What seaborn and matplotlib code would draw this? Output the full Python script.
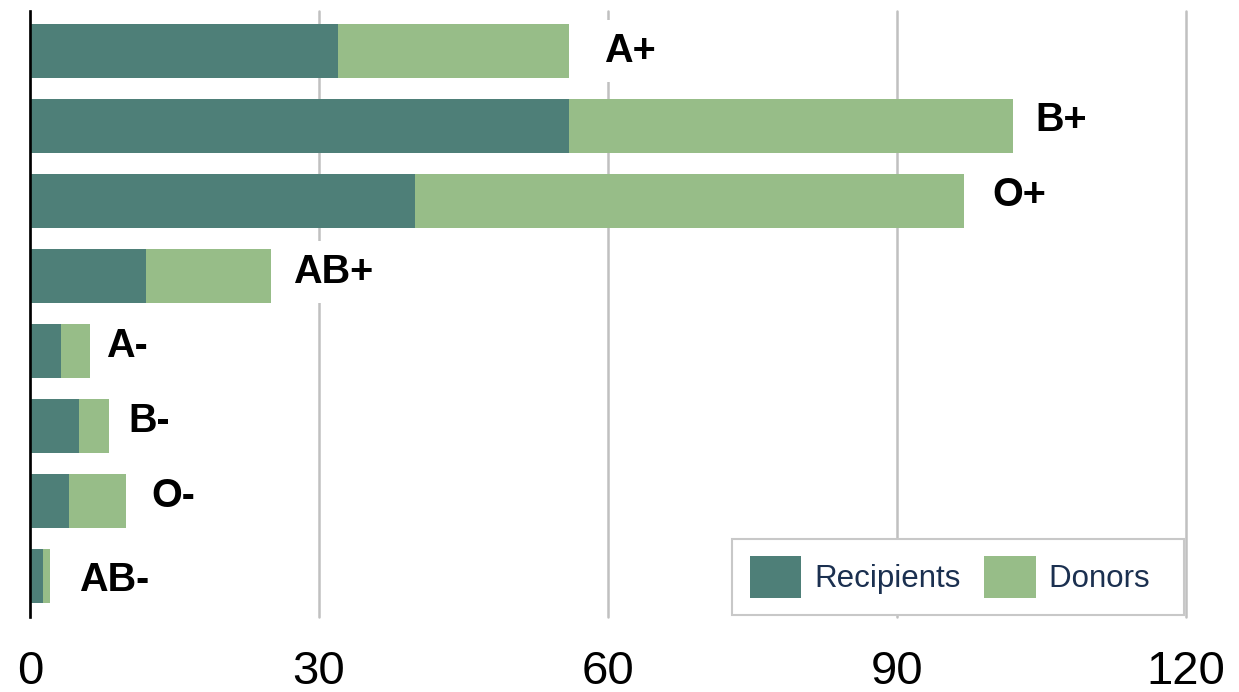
import matplotlib
matplotlib.use("Agg")
import matplotlib.pyplot as plt
from matplotlib.patches import Patch
import seaborn as sns
import pandas as pd

blood_types = ["A+", "B+", "O+", "AB+", "A-", "B-", "O-", "AB-"]
recipients = [32, 56, 40, 12, 3.2, 5.1, 4, 1.3]
donors = [24, 46, 57, 13, 3.0, 3.1, 6, 0.8]
x_ticks = [0, 30, 60, 90, 120]

# label placement (pixel offsets from bar end / bar centre)
label_dx = [35, 23, 28, 22, 16, 19, 25, 29]
label_dy = [0, 6, 6, 4, 5, 5, 5, -4]

rec_color = "#4e7f78"
don_color = "#97bd88"

sns.set_theme(style="white")
plt.rcParams["font.family"] = ["Liberation Sans", "DejaVu Sans"]

df = pd.DataFrame({"type": blood_types, "recipients": recipients, "donors": donors})
df["total"] = df["recipients"] + df["donors"]

fig = plt.figure(figsize=(12.39, 6.92), dpi=100)
ax = fig.add_axes([30 / 1239, 1 - 617 / 692, (1186 - 30) / 1239, (617 - 11) / 692])

sns.barplot(data=df, y="type", x="total", color=don_color, orient="h",
            width=0.72, saturation=1, linewidth=0, edgecolor="none", ax=ax, zorder=3)
sns.barplot(data=df, y="type", x="recipients", color=rec_color, orient="h",
            width=0.72, saturation=1, linewidth=0, edgecolor="none", ax=ax, zorder=3)

ax.set_xlim(0, 120)
ax.set_ylim(7.547, -0.533)
ax.set_xticks(x_ticks)
ax.set_xticklabels([str(t) for t in x_ticks])
ax.tick_params(axis="x", length=0, pad=24, labelsize=34, labelcolor="black")
ax.set_yticks([])
ax.set_xlabel("")
ax.set_ylabel("")
ax.grid(axis="x", color="#c0c0c0", linewidth=1.8, zorder=0)
ax.set_axisbelow(True)
for gl in ax.get_xgridlines():
    gl.set_clip_on(False)
for s in ["top", "right", "bottom"]:
    ax.spines[s].set_visible(False)
ax.spines["left"].set_color("black")
ax.spines["left"].set_linewidth(1.9)
ax.spines["left"].set_zorder(5)

for i, (bt, tot) in enumerate(zip(blood_types, df["total"])):
    ax.annotate(bt, xy=(tot, i), xytext=(label_dx[i], label_dy[i]),
                textcoords="offset pixels", ha="left", va="center",
                fontsize=28.5, fontweight="bold", color="black", zorder=6,
                bbox=dict(boxstyle="square,pad=0.3", facecolor="white", edgecolor="none"))

handles = [Patch(facecolor=rec_color, edgecolor="none", label="Recipients"),
           Patch(facecolor=don_color, edgecolor="none", label="Donors  ")]
leg = ax.legend(handles=handles, loc="lower right", bbox_to_anchor=(1.0, 0.0),
                ncol=2, fontsize=22.5, frameon=True, fancybox=False,
                borderaxespad=0.05, borderpad=0.55, handlelength=1.66,
                handleheight=1.70, handletextpad=0.42, columnspacing=0.75,
                labelcolor="#1b3050")
leg.get_frame().set_edgecolor("#c8c8c8")
leg.get_frame().set_linewidth(1.5)
leg.get_frame().set_facecolor("white")
leg.get_frame().set_alpha(1)
leg.set_zorder(7)

fig.savefig("out.png", dpi=100)
